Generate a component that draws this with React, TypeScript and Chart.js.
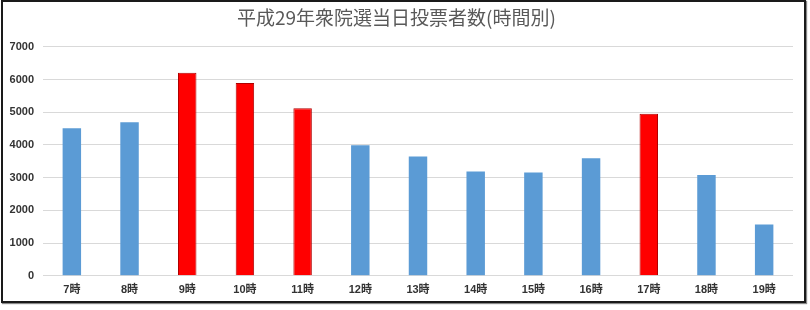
import React, { useEffect, useRef } from "react";
import { Chart, registerables } from "chart.js";

Chart.register(...registerables);

const title = "平成29年衆院選当日投票者数(時間別)";
const categories = ["7時", "8時", "9時", "10時", "11時", "12時", "13時", "14時", "15時", "16時", "17時", "18時", "19時"];
const voters = [4510, 4690, 6210, 5890, 5120, 3990, 3650, 3190, 3160, 3590, 4950, 3080, 1570];
const highlighted = ["9時", "10時", "11時", "17時"];
const yTicks = [0, 1000, 2000, 3000, 4000, 5000, 6000, 7000];

const BLUE = "#5b9bd5";
const RED = "#ff0000";

export default function App() {
  const ref = useRef<HTMLCanvasElement | null>(null);

  useEffect(() => {
    document.body.style.margin = "0";
    const canvas = ref.current;
    if (!canvas) return;
    const isHi = categories.map((c) => highlighted.includes(c));
    const chart = new Chart(canvas, {
      type: "bar",
      data: {
        labels: categories,
        datasets: [
          {
            data: voters,
            backgroundColor: isHi.map((h) => (h ? RED : BLUE)),
            borderColor: isHi.map((h) => (h ? "#b00000" : BLUE)),
            borderWidth: isHi.map((h) => (h ? 1 : 0)),
            categoryPercentage: 1,
            barPercentage: 0.32,
          },
        ],
      },
      options: {
        animation: false,
        responsive: false,
        devicePixelRatio: 1,
        layout: { padding: { left: 0, right: 17, top: 0, bottom: 5 } },
        plugins: {
          legend: { display: false },
          tooltip: { enabled: false },
          title: {
            display: true,
            text: title,
            color: "#595959",
            font: { family: '"Noto Sans CJK JP", sans-serif', size: 19, weight: "normal", lineHeight: 1.2 },
            padding: { top: 6, bottom: 18 },
          },
        },
        scales: {
          x: {
            grid: { display: false, drawTicks: false },
            border: { display: false },
            ticks: {
              color: "#333333",
              padding: 8,
              font: { family: '"Liberation Sans", "Noto Sans CJK JP", sans-serif', size: 11, weight: "bold" },
            },
          },
          y: {
            min: 0,
            max: 7000,
            afterFit: (scale: any) => {
              scale.width = 43;
            },
            afterBuildTicks: (scale: any) => {
              scale.ticks = yTicks.map((v) => ({ value: v }));
            },
            grid: { color: "#d9d9d9", drawTicks: false, lineWidth: 1 },
            border: { display: false },
            ticks: {
              color: "#333333",
              padding: 9,
              callback: (v: any) => String(v),
              font: { family: '"Liberation Sans", sans-serif', size: 11, weight: "bold" },
            },
          },
        },
      },
    });
    return () => chart.destroy();
  }, []);

  return (
    <div style={{ position: "fixed", left: 0, top: 0, width: 810, height: 310, background: "#ffffff" }}>
      <div
        style={{
          position: "absolute",
          left: 1,
          top: 0,
          width: 805,
          height: 303,
          boxSizing: "border-box",
          border: "2px solid #1a1a1a",
          boxShadow: "1px 1px 1px #888",
        }}
      />
      <canvas ref={ref} width={810} height={310} style={{ position: "absolute", left: 0, top: 0 }} />
    </div>
  );
}
